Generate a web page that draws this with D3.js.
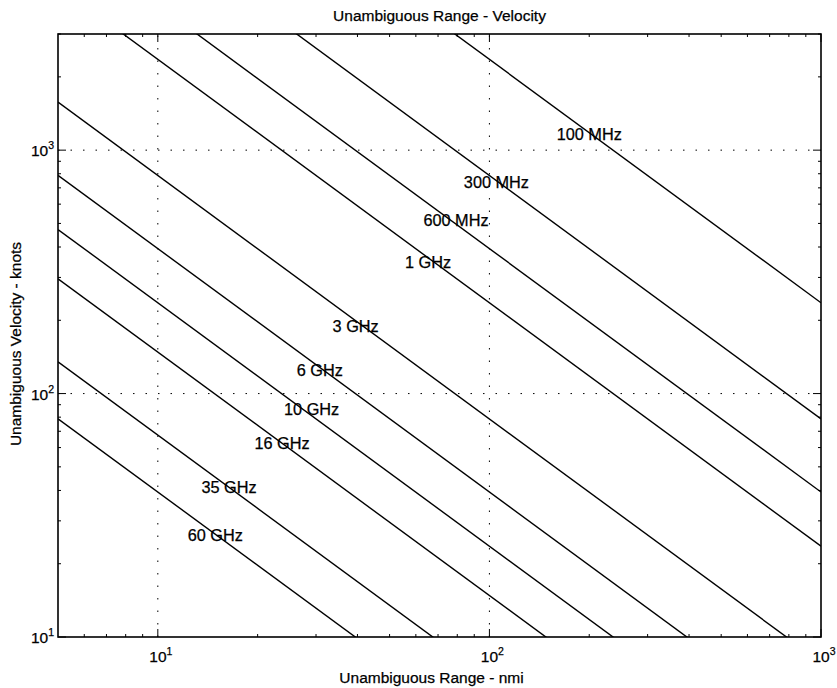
<!DOCTYPE html>
<html>
<head>
<meta charset="utf-8">
<script src="https://cdn.jsdelivr.net/npm/d3@7"></script>
<style>
  html, body { margin: 0; padding: 0; background: #fff; }
  svg text { font-family: "Liberation Sans", Arial, Helvetica, sans-serif; fill: #000; stroke: #000; stroke-width: 0.25px; }
</style>
</head>
<body>
<svg id="chart" width="837" height="688"></svg>
<script>
// Radar carrier frequencies, one constant-product curve each
const frequencyLabels = ["100 MHz", "300 MHz", "600 MHz", "1 GHz", "3 GHz", "6 GHz", "10 GHz", "16 GHz", "35 GHz", "60 GHz"];
// Product Ru * Vu (nmi * knots) for each frequency
const rangeVelocityProduct = [236000, 78700, 39400, 23600, 7870, 3940, 2360, 1480, 675, 394];
// Where each curve's label sits (range in nmi, velocity in knots)
const labelRange = [200, 105, 79.3, 65.3, 39.5, 30.8, 29.1, 23.7, 16.4, 14.9];
const labelVelocity = [1164, 738, 514, 348, 190, 125, 86.3, 62.5, 41.1, 26.1];

const rangeDomain = [5, 1000];
const velocityDomain = [10, 3000];
const xMajorTicks = [10, 100, 1000];
const yMajorTicks = [10, 100, 1000];
const xMinorTicks = [6, 7, 8, 9, 20, 30, 40, 50, 60, 70, 80, 90, 200, 300, 400, 500, 600, 700, 800, 900];
const yMinorTicks = [20, 30, 40, 50, 60, 70, 80, 90, 200, 300, 400, 500, 600, 700, 800, 900, 2000, 3000];
const xGrid = [10, 100];
const yGrid = [100, 1000];

const plot = { left: 58, right: 821, top: 34, bottom: 637 };
const svg = d3.select("#chart");

const x = d3.scaleLog().domain(rangeDomain).range([plot.left, plot.right]);
const y = d3.scaleLog().domain(velocityDomain).range([plot.bottom, plot.top]);

svg.append("defs").append("clipPath").attr("id", "plot-clip")
  .append("rect")
  .attr("x", plot.left).attr("y", plot.top)
  .attr("width", plot.right - plot.left).attr("height", plot.bottom - plot.top);

// Dotted grid at the major decades
const grid = svg.append("g").attr("stroke", "#000").attr("stroke-width", 1)
  .attr("stroke-dasharray", "1.5,11");
grid.selectAll("line.gx").data(xGrid).join("line").attr("class", "gx")
  .attr("x1", d => x(d)).attr("x2", d => x(d))
  .attr("y1", plot.bottom).attr("y2", plot.top);
grid.selectAll("line.gy").data(yGrid).join("line").attr("class", "gy")
  .attr("x1", plot.left).attr("x2", plot.right)
  .attr("y1", d => y(d)).attr("y2", d => y(d));

// Constant-frequency curves: V = K / R is a straight line in log-log space
const line = d3.line().x(d => x(d[0])).y(d => y(d[1]));
svg.append("g").attr("clip-path", "url(#plot-clip)")
  .selectAll("path").data(rangeVelocityProduct).join("path")
  .attr("d", k => line(rangeDomain.map(r => [r, k / r])))
  .attr("fill", "none").attr("stroke", "#000").attr("stroke-width", 1.4);

// Curve labels
svg.append("g").selectAll("text").data(frequencyLabels).join("text")
  .attr("x", (d, i) => x(labelRange[i]))
  .attr("y", (d, i) => y(labelVelocity[i]))
  .attr("dy", "0.36em")
  .attr("text-anchor", "middle")
  .attr("font-size", 16.3)
  .text(d => d);

// Axes box
svg.append("rect")
  .attr("x", plot.left).attr("y", plot.top)
  .attr("width", plot.right - plot.left).attr("height", plot.bottom - plot.top)
  .attr("fill", "none").attr("stroke", "#000").attr("stroke-width", 1.6);

// Tick marks on all four sides, pointing inward
const ticks = svg.append("g").attr("stroke", "#000").attr("stroke-width", 1);
function xTicks(values, len) {
  ticks.append("g").selectAll("line").data(values).join("line")
    .attr("x1", d => x(d)).attr("x2", d => x(d))
    .attr("y1", plot.bottom).attr("y2", plot.bottom - len);
  ticks.append("g").selectAll("line").data(values).join("line")
    .attr("x1", d => x(d)).attr("x2", d => x(d))
    .attr("y1", plot.top).attr("y2", plot.top + len);
}
function yTicks(values, len) {
  ticks.append("g").selectAll("line").data(values).join("line")
    .attr("x1", plot.left).attr("x2", plot.left + len)
    .attr("y1", d => y(d)).attr("y2", d => y(d));
  ticks.append("g").selectAll("line").data(values).join("line")
    .attr("x1", plot.right).attr("x2", plot.right - len)
    .attr("y1", d => y(d)).attr("y2", d => y(d));
}
xTicks(xMajorTicks, 8);
yTicks(yMajorTicks, 8);
xTicks(xMinorTicks, 3);
yTicks(yMinorTicks, 3);

// Power-of-ten tick labels
function powerLabel(sel) {
  sel.append("tspan").attr("font-size", 15.5).text("10");
  sel.append("tspan").attr("font-size", 10.5).attr("dy", -7)
    .text(d => Math.round(Math.log10(d)));
}
svg.append("g").selectAll("text").data(xMajorTicks).join("text")
  .attr("x", d => x(d) + 3).attr("y", 662)
  .attr("text-anchor", "middle")
  .call(powerLabel);
svg.append("g").selectAll("text").data(yMajorTicks).join("text")
  .attr("x", 54).attr("y", d => y(d) + 6)
  .attr("text-anchor", "end")
  .call(powerLabel);

// Titles
svg.append("text")
  .attr("x", (plot.left + plot.right) / 2).attr("y", 21)
  .attr("text-anchor", "middle").attr("font-size", 15.5)
  .text("Unambiguous Range - Velocity");
svg.append("text")
  .attr("x", (plot.left + plot.right) / 2 - 8).attr("y", 683)
  .attr("text-anchor", "middle").attr("font-size", 15.5)
  .text("Unambiguous Range - nmi");
svg.append("text")
  .attr("transform", "translate(21,344) rotate(-90)")
  .attr("text-anchor", "middle").attr("font-size", 15.5)
  .text("Unambiguous Velocity - knots");
</script>
</body>
</html>
